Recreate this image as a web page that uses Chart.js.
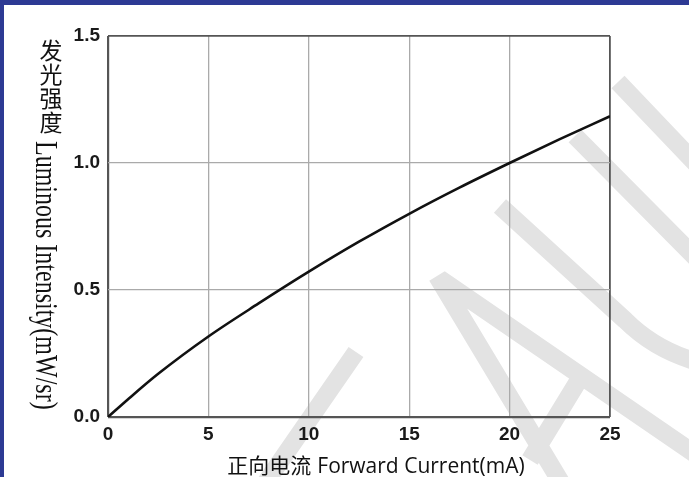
<!DOCTYPE html>
<html>
<head>
<meta charset="utf-8">
<script src="https://cdn.jsdelivr.net/npm/chart.js@4.4.1/dist/chart.umd.min.js"></script>
<style>
  html, body { margin: 0; padding: 0; background: #fff; }
  #wrap { width: 689px; height: 477px; position: relative; }
</style>
</head>
<body>
<div id="wrap"><canvas id="chart"></canvas></div>
<script>
// forward current (mA) vs luminous intensity (mW/sr)
var currents = [0, 1, 2.5, 5, 7.5, 10, 12.5, 15, 17.5, 20, 22.5, 25];
var intensity = [0, 0.07, 0.17, 0.317, 0.447, 0.572, 0.69, 0.80, 0.903, 1.0, 1.094, 1.184];
var xTicks = [0, 5, 10, 15, 20, 25];
var yTicks = [0.0, 0.5, 1.0, 1.5];

var xTitleCn = '正向电流';
var xTitleEn = 'Forward Current(mA)';
var yTitleCn = ['发', '光', '强', '度'];
var yTitleEn = 'Luminous Intensity(mW/sr)';

var points = currents.map(function (c, i) { return { x: c, y: intensity[i] }; });

//grid colour: outer frame darker than inner lines
function gridColor(min, max) {
    return function (ctx) {
        var v = ctx.tick ? ctx.tick.value : null;
        if (v === min || v === max) return '#555';
        return '#aaa';
    };
}
function gridWidth(min, max) {
    return function (ctx) {
        var v = ctx.tick ? ctx.tick.value : null;
        if (v === min) return 2.2;
        if (v === max) return 1.8;
        return 1.3;
    };
}

//background, watermark and page border
var backdrop = {
    id: 'backdrop',
    beforeDraw: function (chart) {
        var c = chart.ctx;
        c.save();
        c.fillStyle = '#fff';
        c.fillRect(0, 0, chart.width, chart.height);

        c.strokeStyle = '#e3e3e3';
        c.lineWidth = 18;
        c.lineCap = 'butt';
        c.beginPath();
        c.moveTo(356, 352); c.lineTo(266, 482);
        c.moveTo(437, 276); c.lineTo(562, 484);
        c.moveTo(440, 279); c.lineTo(698, 456);
        c.moveTo(577, 383); c.lineTo(530, 460);
        c.moveTo(500, 206); c.lineTo(625, 320); c.quadraticCurveTo(655, 350, 698, 362);
        c.moveTo(575, 136); c.lineTo(698, 260);
        c.moveTo(618, 82); c.lineTo(698, 166);
        c.stroke();

        c.fillStyle = '#2d3a94';
        c.fillRect(0, 0, chart.width, 5);
        c.fillRect(0, 0, 4, chart.height);
        c.restore();
    }
};

//axis titles: mixed upright CJK and rotated latin text
var titles = {
    id: 'titles',
    afterDraw: function (chart) {
        var c = chart.ctx;
        var area = chart.chartArea;
        c.save();
        c.fillStyle = '#111';

        //x title
        c.textBaseline = 'alphabetic';
        c.font = '21px "Noto Sans CJK SC"';
        var wCn = c.measureText(xTitleCn).width;
        c.font = '21px "Open Sans"';
        var wEn = c.measureText(xTitleEn).width;
        var gap = 6;
        var cx = (area.left + area.right) / 2 + 17;
        var x0 = cx - (wCn + gap + wEn) / 2;
        c.textAlign = 'left';
        c.font = '21px "Noto Sans CJK SC"';
        c.fillText(xTitleCn, x0, 473);
        c.font = '21px "Open Sans"';
        c.fillText(xTitleEn, x0 + wCn + gap, 473);

        //y title
        c.font = '23px "Noto Sans CJK SC"';
        c.textAlign = 'center';
        c.textBaseline = 'middle';
        yTitleCn.forEach(function (ch, i) {
            c.fillText(ch, 51, 50.5 + i * 24);
        });
        c.translate(36, 141);
        c.rotate(Math.PI / 2);
        c.scale(1, 1.3);
        c.textAlign = 'left';
        c.textBaseline = 'alphabetic';
        c.font = '24px "Liberation Serif"';
        c.fillText(yTitleEn, 0, 0);
        c.restore();
    }
};

var ctx = document.getElementById('chart').getContext('2d');
var chart = new Chart(ctx, {
    type: 'line',
    data: {
        datasets: [{
            data: points,
            borderColor: '#111',
            borderWidth: 2.6,
            pointRadius: 0,
            fill: false,
            cubicInterpolationMode: 'monotone'
        }]
    },
    options: {
        responsive: true,
        maintainAspectRatio: false,
        animation: false,
        layout: { padding: { left: 0, top: 36, right: 79, bottom: 0 } },
        plugins: {
            legend: { display: false },
            tooltip: { enabled: false }
        },
        scales: {
            x: {
                type: 'linear',
                min: xTicks[0],
                max: xTicks[xTicks.length - 1],
                afterBuildTicks: function (scale) {
                    scale.ticks = xTicks.map(function (v) { return { value: v }; });
                },
                afterFit: function (scale) { scale.height = 60; },
                ticks: {
                    padding: 6,
                    color: '#1a1a1a',
                    font: { family: '"Liberation Sans", Arial', size: 19, weight: 'bold' },
                    callback: function (v) { return String(v); }
                },
                grid: { color: gridColor(0, 25), lineWidth: gridWidth(0, 25), drawTicks: false },
                border: { display: false }
            },
            y: {
                min: yTicks[0],
                max: yTicks[yTicks.length - 1],
                afterBuildTicks: function (scale) {
                    scale.ticks = yTicks.map(function (v) { return { value: v }; });
                },
                afterFit: function (scale) { scale.width = 108; },
                ticks: {
                    padding: 8,
                    color: '#1a1a1a',
                    font: { family: '"Liberation Sans", Arial', size: 19, weight: 'bold' },
                    callback: function (v) { return Number(v).toFixed(1); }
                },
                grid: { color: gridColor(0, 1.5), lineWidth: gridWidth(0, 1.5), drawTicks: false },
                border: { display: false }
            }
        }
    },
    plugins: [backdrop, titles]
});
</script>
</body>
</html>
